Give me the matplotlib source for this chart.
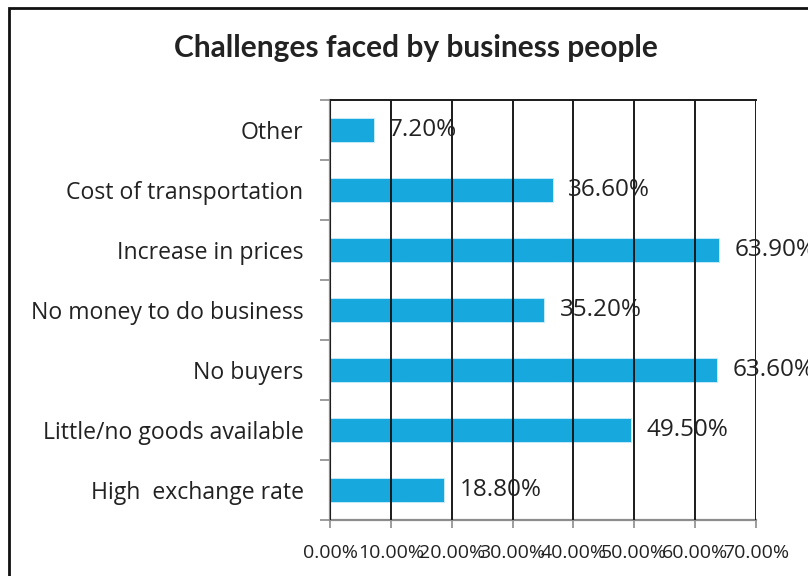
"""Horizontal bar chart: challenges faced by business people."""

import matplotlib.pyplot as plt
from matplotlib.patches import Rectangle
from matplotlib.ticker import FixedLocator, PercentFormatter

categories = [
    "High  exchange rate",
    "Little/no goods available",
    "No buyers",
    "No money to do business",
    "Increase in prices",
    "Cost of transportation",
    "Other",
]
shares = [18.8, 49.5, 63.6, 35.2, 63.9, 36.6, 7.2]
x_ticks = [0, 10, 20, 30, 40, 50, 60, 70]

BAR_COLOR = "#17A9DE"
TEXT_COLOR = "#222222"

fig = plt.figure(figsize=(8.08, 5.76), dpi=100)
ax = fig.add_axes([330 / 808, 56 / 576, 426 / 808, 420 / 576])

y = list(range(len(categories)))
ax.barh(y, shares, height=0.4, color=BAR_COLOR, edgecolor="#cfeefa",
        linewidth=0.6, zorder=2)

for yi, val in zip(y, shares):
    ax.annotate(f"{val:.2f}%", (val, yi), xytext=(11, 0), textcoords="offset points",
                va="center", ha="left", fontsize=17.5, family="Open Sans",
                color=TEXT_COLOR, annotation_clip=False, zorder=4)

ax.set_xlim(0, 70)
ax.set_ylim(-0.5, len(categories) - 0.5)

ax.xaxis.set_major_locator(FixedLocator(x_ticks))
ax.xaxis.set_major_formatter(PercentFormatter(decimals=2))
ax.grid(axis="x", color="#1a1a1a", linewidth=1.4, zorder=3)
ax.set_axisbelow(False)

# category labels sit between the boundary ticks
ax.set_yticks([i - 0.5 for i in range(len(categories) + 1)])
ax.set_yticklabels([])
ax.set_yticks(y, minor=True)
ax.set_yticklabels(categories, minor=True, fontsize=16.6, family="Open Sans",
                   color=TEXT_COLOR)
ax.tick_params(axis="y", which="minor", length=0, pad=19)
ax.tick_params(axis="y", which="major", length=7, width=1.2, color="#8c8c8c")
ax.tick_params(axis="x", length=6, width=1.2, color="#8c8c8c", pad=11,
               labelsize=14, labelcolor=TEXT_COLOR)
for lbl in ax.get_xticklabels():
    lbl.set_family("Open Sans")

for side in ("left", "bottom"):
    ax.spines[side].set_color("#8c8c8c")
    ax.spines[side].set_linewidth(1.6)
ax.spines["top"].set_color("#1a1a1a")
ax.spines["top"].set_linewidth(1.4)
ax.spines["right"].set_visible(False)

fig.text(416 / 808, 1 - 48 / 576, "Challenges faced by business people",
         ha="center", va="center", fontsize=21.5, fontweight="bold",
         family="Lato", color=TEXT_COLOR)

# chart frame
fig.patches.append(Rectangle((9 / 808, -0.02), 1.0, 0.02 + (576 - 8) / 576,
                             transform=fig.transFigure, fill=False,
                             edgecolor="#111111", linewidth=2.0))

fig.savefig("out.png", dpi=100)
